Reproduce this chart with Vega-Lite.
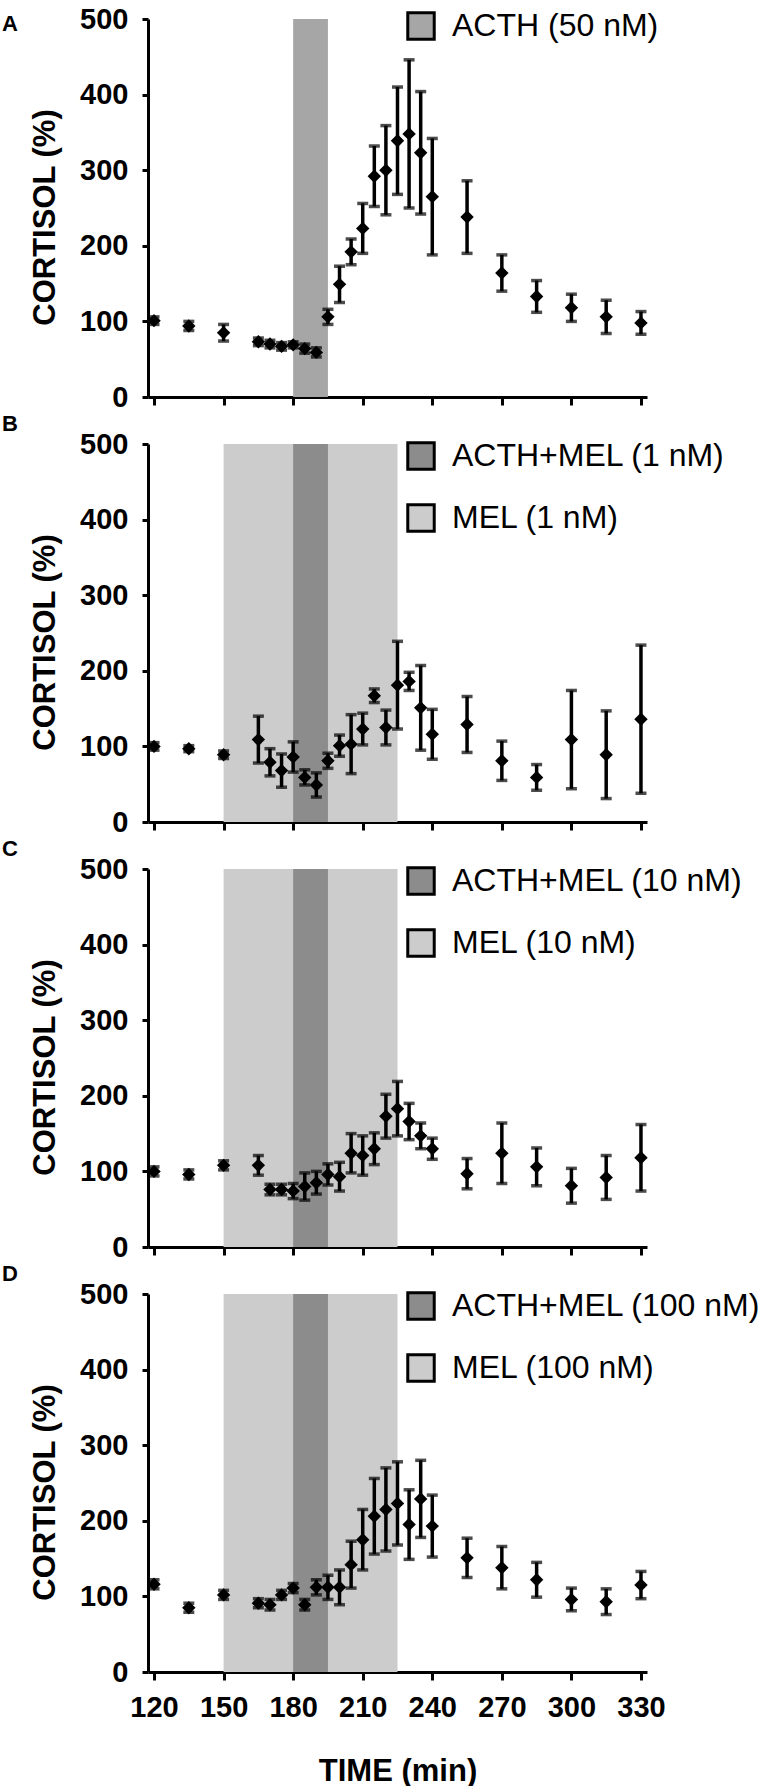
{
  "$schema": "https://vega.github.io/schema/vega-lite/v6.json",
  "background": "white",
  "padding": {"top": 5, "left": 2, "right": 0, "bottom": 0},
  "spacing": 47,
  "bounds": "flush",
  "config": {
    "view": {"stroke": null},
    "font": "Liberation Sans",
    "axis": {
      "grid": false,
      "labelFont": "Liberation Sans",
      "labelFontWeight": "bold",
      "labelFontSize": 29,
      "labelColor": "black",
      "labelFlush": false,
      "labelOverlap": false,
      "domainColor": "black",
      "domainWidth": 3,
      "tickColor": "black",
      "tickWidth": 3,
      "titleFont": "Liberation Sans",
      "titleFontWeight": "bold",
      "titleFontSize": 31,
      "titleColor": "black"
    },
    "axisX": {"tickSize": 8, "labelPadding": 13, "titlePadding": 34},
    "axisY": {"tickSize": 6, "labelPadding": 14, "labelDy": 5, "titlePadding": 18, "titleY": 198},
    "legend": {
      "orient": "none",
      "legendX": 257,
      "legendY": -4,
      "symbolType": "square",
      "symbolSize": 700,
      "symbolStrokeColor": "black",
      "symbolStrokeWidth": 3,
      "labelFont": "Liberation Sans",
      "labelFontSize": 32,
      "labelColor": "black",
      "labelOffset": 15,
      "labelLimit": 500,
      "rowPadding": 22,
      "padding": 0
    },
    "title": {"font": "Liberation Sans", "fontSize": 22, "fontWeight": "bold", "color": "black", "anchor": "start", "frame": "group", "dx": -146, "baseline": "alphabetic", "offset": -6}
  },
  "resolve": {"scale": {"color": "independent"}, "legend": {"color": "independent"}},
  "datasets": {
    "bands": [
      {"panel": "A", "start": 180, "end": 195, "label": "ACTH (50 nM)"},
      {"panel": "B", "start": 150, "end": 225, "label": "MEL (1 nM)"},
      {"panel": "B", "start": 180, "end": 195, "label": "ACTH+MEL (1 nM)"},
      {"panel": "C", "start": 150, "end": 225, "label": "MEL (10 nM)"},
      {"panel": "C", "start": 180, "end": 195, "label": "ACTH+MEL (10 nM)"},
      {"panel": "D", "start": 150, "end": 225, "label": "MEL (100 nM)"},
      {"panel": "D", "start": 180, "end": 195, "label": "ACTH+MEL (100 nM)"}
    ],
    "points": [
      {"panel": "A", "time": 120, "cortisol": 101, "sem": 5},
      {"panel": "A", "time": 135, "cortisol": 94, "sem": 6},
      {"panel": "A", "time": 150, "cortisol": 85, "sem": 11},
      {"panel": "A", "time": 165, "cortisol": 73, "sem": 5},
      {"panel": "A", "time": 170, "cortisol": 70, "sem": 5},
      {"panel": "A", "time": 175, "cortisol": 67, "sem": 5},
      {"panel": "A", "time": 180, "cortisol": 69, "sem": 4},
      {"panel": "A", "time": 185, "cortisol": 64, "sem": 6},
      {"panel": "A", "time": 190, "cortisol": 59, "sem": 6},
      {"panel": "A", "time": 195, "cortisol": 106, "sem": 10},
      {"panel": "A", "time": 200, "cortisol": 149, "sem": 24},
      {"panel": "A", "time": 205, "cortisol": 192, "sem": 17},
      {"panel": "A", "time": 210, "cortisol": 223, "sem": 33},
      {"panel": "A", "time": 215, "cortisol": 292, "sem": 40},
      {"panel": "A", "time": 220, "cortisol": 300, "sem": 59},
      {"panel": "A", "time": 225, "cortisol": 339, "sem": 71},
      {"panel": "A", "time": 230, "cortisol": 348, "sem": 98},
      {"panel": "A", "time": 235, "cortisol": 323, "sem": 81},
      {"panel": "A", "time": 240, "cortisol": 265, "sem": 77},
      {"panel": "A", "time": 255, "cortisol": 238, "sem": 48},
      {"panel": "A", "time": 270, "cortisol": 164, "sem": 24},
      {"panel": "A", "time": 285, "cortisol": 133, "sem": 21},
      {"panel": "A", "time": 300, "cortisol": 118, "sem": 18},
      {"panel": "A", "time": 315, "cortisol": 106, "sem": 22},
      {"panel": "A", "time": 330, "cortisol": 98, "sem": 15},

      {"panel": "B", "time": 120, "cortisol": 100, "sem": 5},
      {"panel": "B", "time": 135, "cortisol": 97, "sem": 4},
      {"panel": "B", "time": 150, "cortisol": 89, "sem": 5},
      {"panel": "B", "time": 165, "cortisol": 109, "sem": 31},
      {"panel": "B", "time": 170, "cortisol": 79, "sem": 18},
      {"panel": "B", "time": 175, "cortisol": 68, "sem": 22},
      {"panel": "B", "time": 180, "cortisol": 86, "sem": 20},
      {"panel": "B", "time": 185, "cortisol": 59, "sem": 10},
      {"panel": "B", "time": 190, "cortisol": 49, "sem": 16},
      {"panel": "B", "time": 195, "cortisol": 81, "sem": 10},
      {"panel": "B", "time": 200, "cortisol": 101, "sem": 14},
      {"panel": "B", "time": 205, "cortisol": 103, "sem": 39},
      {"panel": "B", "time": 210, "cortisol": 123, "sem": 21},
      {"panel": "B", "time": 215, "cortisol": 167, "sem": 9},
      {"panel": "B", "time": 220, "cortisol": 125, "sem": 23},
      {"panel": "B", "time": 225, "cortisol": 181, "sem": 58},
      {"panel": "B", "time": 230, "cortisol": 186, "sem": 12},
      {"panel": "B", "time": 235, "cortisol": 151, "sem": 56},
      {"panel": "B", "time": 240, "cortisol": 116, "sem": 33},
      {"panel": "B", "time": 255, "cortisol": 129, "sem": 37},
      {"panel": "B", "time": 270, "cortisol": 81, "sem": 26},
      {"panel": "B", "time": 285, "cortisol": 59, "sem": 17},
      {"panel": "B", "time": 300, "cortisol": 109, "sem": 65},
      {"panel": "B", "time": 315, "cortisol": 89, "sem": 58},
      {"panel": "B", "time": 330, "cortisol": 136, "sem": 98},

      {"panel": "C", "time": 120, "cortisol": 100, "sem": 6},
      {"panel": "C", "time": 135, "cortisol": 96, "sem": 6},
      {"panel": "C", "time": 150, "cortisol": 108, "sem": 6},
      {"panel": "C", "time": 165, "cortisol": 108, "sem": 13},
      {"panel": "C", "time": 170, "cortisol": 76, "sem": 7},
      {"panel": "C", "time": 175, "cortisol": 76, "sem": 7},
      {"panel": "C", "time": 180, "cortisol": 74, "sem": 10},
      {"panel": "C", "time": 185, "cortisol": 80, "sem": 18},
      {"panel": "C", "time": 190, "cortisol": 85, "sem": 15},
      {"panel": "C", "time": 195, "cortisol": 96, "sem": 14},
      {"panel": "C", "time": 200, "cortisol": 93, "sem": 19},
      {"panel": "C", "time": 205, "cortisol": 124, "sem": 26},
      {"panel": "C", "time": 210, "cortisol": 121, "sem": 26},
      {"panel": "C", "time": 215, "cortisol": 130, "sem": 21},
      {"panel": "C", "time": 220, "cortisol": 173, "sem": 29},
      {"panel": "C", "time": 225, "cortisol": 183, "sem": 36},
      {"panel": "C", "time": 230, "cortisol": 166, "sem": 24},
      {"panel": "C", "time": 235, "cortisol": 147, "sem": 17},
      {"panel": "C", "time": 240, "cortisol": 130, "sem": 14},
      {"panel": "C", "time": 255, "cortisol": 97, "sem": 20},
      {"panel": "C", "time": 270, "cortisol": 124, "sem": 40},
      {"panel": "C", "time": 285, "cortisol": 106, "sem": 25},
      {"panel": "C", "time": 300, "cortisol": 81, "sem": 23},
      {"panel": "C", "time": 315, "cortisol": 92, "sem": 29},
      {"panel": "C", "time": 330, "cortisol": 118, "sem": 44},

      {"panel": "D", "time": 120, "cortisol": 116, "sem": 6},
      {"panel": "D", "time": 135, "cortisol": 85, "sem": 6},
      {"panel": "D", "time": 150, "cortisol": 102, "sem": 6},
      {"panel": "D", "time": 165, "cortisol": 91, "sem": 6},
      {"panel": "D", "time": 170, "cortisol": 89, "sem": 7},
      {"panel": "D", "time": 175, "cortisol": 102, "sem": 6},
      {"panel": "D", "time": 180, "cortisol": 111, "sem": 6},
      {"panel": "D", "time": 185, "cortisol": 89, "sem": 7},
      {"panel": "D", "time": 190, "cortisol": 112, "sem": 10},
      {"panel": "D", "time": 195, "cortisol": 112, "sem": 16},
      {"panel": "D", "time": 200, "cortisol": 112, "sem": 23},
      {"panel": "D", "time": 205, "cortisol": 142, "sem": 31},
      {"panel": "D", "time": 210, "cortisol": 175, "sem": 40},
      {"panel": "D", "time": 215, "cortisol": 206, "sem": 50},
      {"panel": "D", "time": 220, "cortisol": 215, "sem": 55},
      {"panel": "D", "time": 225, "cortisol": 223, "sem": 55},
      {"panel": "D", "time": 230, "cortisol": 195, "sem": 46},
      {"panel": "D", "time": 235, "cortisol": 229, "sem": 51},
      {"panel": "D", "time": 240, "cortisol": 193, "sem": 41},
      {"panel": "D", "time": 255, "cortisol": 151, "sem": 26},
      {"panel": "D", "time": 270, "cortisol": 138, "sem": 28},
      {"panel": "D", "time": 285, "cortisol": 122, "sem": 23},
      {"panel": "D", "time": 300, "cortisol": 96, "sem": 15},
      {"panel": "D", "time": 315, "cortisol": 93, "sem": 17},
      {"panel": "D", "time": 330, "cortisol": 115, "sem": 18}
    ]
  },
  "vconcat": [
    {
      "width": 499,
      "height": 378,
      "title": {"text": "A", "offset": -31},
      "layer": [
        {
          "data": {"name": "bands"},
          "transform": [{"filter": "datum.panel == 'A'"}],
          "mark": "rect",
          "encoding": {
            "x": {"field": "start", "type": "quantitative", "scale": {"domain": [117.4, 332.6], "nice": false, "zero": false},
                  "axis": {"values": [120, 150, 180, 210, 240, 270, 300, 330], "labels": false, "title": null}},
            "x2": {"field": "end"},
            "color": {"field": "label", "type": "nominal",
                      "scale": {"domain": ["ACTH (50 nM)"], "range": ["#a6a6a6"]},
                      "legend": {"title": null, "legendY": -9}}
          }
        },
        {
          "data": {"name": "points"},
          "transform": [{"filter": "datum.panel == 'A'"}],
          "mark": {"type": "errorbar", "color": "black", "thickness": 3.5, "rule": {"strokeWidth": 3.5}, "ticks": {"size": 11, "thickness": 3.5}},
          "encoding": {
            "x": {"field": "time", "type": "quantitative"},
            "y": {"field": "cortisol", "type": "quantitative", "scale": {"domain": [0, 500], "nice": false},
                  "axis": {"values": [0, 100, 200, 300, 400, 500], "title": "CORTISOL (%)"}},
            "yError": {"field": "sem"}
          }
        },
        {
          "data": {"name": "points"},
          "transform": [{"filter": "datum.panel == 'A'"}],
          "mark": {"type": "point", "shape": "diamond", "filled": true, "size": 180, "color": "black", "opacity": 1},
          "encoding": {
            "x": {"field": "time", "type": "quantitative"},
            "y": {"field": "cortisol", "type": "quantitative"}
          }
        }
      ]
    },
    {
      "width": 499,
      "height": 378,
      "title": {"text": "B"},
      "layer": [
        {
          "data": {"name": "bands"},
          "transform": [{"filter": "datum.panel == 'B'"}],
          "mark": "rect",
          "encoding": {
            "x": {"field": "start", "type": "quantitative", "scale": {"domain": [117.4, 332.6], "nice": false, "zero": false},
                  "axis": {"values": [120, 150, 180, 210, 240, 270, 300, 330], "labels": false, "title": null}},
            "x2": {"field": "end"},
            "color": {"field": "label", "type": "nominal",
                      "scale": {"domain": ["ACTH+MEL (1 nM)", "MEL (1 nM)"], "range": ["#8c8c8c", "#cccccc"]},
                      "legend": {"title": null}}
          }
        },
        {
          "data": {"name": "points"},
          "transform": [{"filter": "datum.panel == 'B'"}],
          "mark": {"type": "errorbar", "color": "black", "thickness": 3.5, "rule": {"strokeWidth": 3.5}, "ticks": {"size": 11, "thickness": 3.5}},
          "encoding": {
            "x": {"field": "time", "type": "quantitative"},
            "y": {"field": "cortisol", "type": "quantitative", "scale": {"domain": [0, 500], "nice": false},
                  "axis": {"values": [0, 100, 200, 300, 400, 500], "title": "CORTISOL (%)"}},
            "yError": {"field": "sem"}
          }
        },
        {
          "data": {"name": "points"},
          "transform": [{"filter": "datum.panel == 'B'"}],
          "mark": {"type": "point", "shape": "diamond", "filled": true, "size": 180, "color": "black", "opacity": 1},
          "encoding": {
            "x": {"field": "time", "type": "quantitative"},
            "y": {"field": "cortisol", "type": "quantitative"}
          }
        }
      ]
    },
    {
      "width": 499,
      "height": 378,
      "title": {"text": "C"},
      "layer": [
        {
          "data": {"name": "bands"},
          "transform": [{"filter": "datum.panel == 'C'"}],
          "mark": "rect",
          "encoding": {
            "x": {"field": "start", "type": "quantitative", "scale": {"domain": [117.4, 332.6], "nice": false, "zero": false},
                  "axis": {"values": [120, 150, 180, 210, 240, 270, 300, 330], "labels": false, "title": null}},
            "x2": {"field": "end"},
            "color": {"field": "label", "type": "nominal",
                      "scale": {"domain": ["ACTH+MEL (10 nM)", "MEL (10 nM)"], "range": ["#8c8c8c", "#cccccc"]},
                      "legend": {"title": null}}
          }
        },
        {
          "data": {"name": "points"},
          "transform": [{"filter": "datum.panel == 'C'"}],
          "mark": {"type": "errorbar", "color": "black", "thickness": 3.5, "rule": {"strokeWidth": 3.5}, "ticks": {"size": 11, "thickness": 3.5}},
          "encoding": {
            "x": {"field": "time", "type": "quantitative"},
            "y": {"field": "cortisol", "type": "quantitative", "scale": {"domain": [0, 500], "nice": false},
                  "axis": {"values": [0, 100, 200, 300, 400, 500], "title": "CORTISOL (%)"}},
            "yError": {"field": "sem"}
          }
        },
        {
          "data": {"name": "points"},
          "transform": [{"filter": "datum.panel == 'C'"}],
          "mark": {"type": "point", "shape": "diamond", "filled": true, "size": 180, "color": "black", "opacity": 1},
          "encoding": {
            "x": {"field": "time", "type": "quantitative"},
            "y": {"field": "cortisol", "type": "quantitative"}
          }
        }
      ]
    },
    {
      "width": 499,
      "height": 378,
      "title": {"text": "D"},
      "layer": [
        {
          "data": {"name": "bands"},
          "transform": [{"filter": "datum.panel == 'D'"}],
          "mark": "rect",
          "encoding": {
            "x": {"field": "start", "type": "quantitative", "scale": {"domain": [117.4, 332.6], "nice": false, "zero": false},
                  "axis": {"values": [120, 150, 180, 210, 240, 270, 300, 330], "title": "TIME (min)"}},
            "x2": {"field": "end"},
            "color": {"field": "label", "type": "nominal",
                      "scale": {"domain": ["ACTH+MEL (100 nM)", "MEL (100 nM)"], "range": ["#8c8c8c", "#cccccc"]},
                      "legend": {"title": null}}
          }
        },
        {
          "data": {"name": "points"},
          "transform": [{"filter": "datum.panel == 'D'"}],
          "mark": {"type": "errorbar", "color": "black", "thickness": 3.5, "rule": {"strokeWidth": 3.5}, "ticks": {"size": 11, "thickness": 3.5}},
          "encoding": {
            "x": {"field": "time", "type": "quantitative"},
            "y": {"field": "cortisol", "type": "quantitative", "scale": {"domain": [0, 500], "nice": false},
                  "axis": {"values": [0, 100, 200, 300, 400, 500], "title": "CORTISOL (%)"}},
            "yError": {"field": "sem"}
          }
        },
        {
          "data": {"name": "points"},
          "transform": [{"filter": "datum.panel == 'D'"}],
          "mark": {"type": "point", "shape": "diamond", "filled": true, "size": 180, "color": "black", "opacity": 1},
          "encoding": {
            "x": {"field": "time", "type": "quantitative"},
            "y": {"field": "cortisol", "type": "quantitative"}
          }
        }
      ]
    }
  ]
}
